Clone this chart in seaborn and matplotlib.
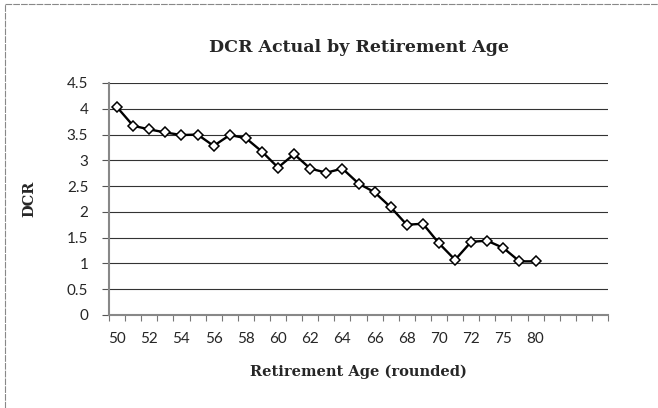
import matplotlib
matplotlib.use("Agg")
import matplotlib.pyplot as plt
import seaborn as sns
import numpy as np
import pandas as pd
from matplotlib.lines import Line2D

# categories on the x axis (Excel-style category axis, 4 empty slots at the end)
ages = ['50', '51', '52', '53', '54', '55', '56', '57', '58', '59', '60', '61',
        '62', '63', '64', '65', '66', '67', '68', '69', '70', '71', '72', '73',
        '75', '77', '80', '', '', '', '']
dcr = [4.03, 3.67, 3.60, 3.54, 3.49, 3.50, 3.28, 3.49, 3.43, 3.17, 2.86, 3.12,
       2.84, 2.76, 2.84, 2.55, 2.38, 2.09, 1.75, 1.77, 1.39, 1.07, 1.42, 1.44,
       1.30, 1.04, 1.04]
yticks = [0, 0.5, 1, 1.5, 2, 2.5, 3, 3.5, 4, 4.5]

df = pd.DataFrame({'pos': np.arange(len(dcr)), 'DCR': dcr})

sns.set_style('white')
plt.rcParams['font.family'] = ['Lato', 'DejaVu Sans']

fig = plt.figure(figsize=(6.58, 4.08), dpi=100)
ax = fig.add_axes([0.1657, 0.228, 0.7583, 0.5686])

sns.lineplot(data=df, x='pos', y='DCR', ax=ax, color='black', linewidth=1.7,
             marker='D', markersize=5.5, markerfacecolor='white',
             markeredgecolor='black', markeredgewidth=1.1, zorder=3)

ax.set_xlim(-0.5, len(ages) - 0.5)
ax.set_ylim(0, 4.5)

# labels at every other category, tick marks at category boundaries
ax.set_xticks(np.arange(0, len(ages), 2))
ax.set_xticklabels([ages[i] for i in range(0, len(ages), 2)])
ax.set_xticks(np.arange(-0.5, len(ages), 1), minor=True)
ax.tick_params(axis='x', which='major', length=0, pad=12, labelsize=11)
ax.tick_params(axis='x', which='minor', length=4, width=0.8, color='#777777',
               direction='out', bottom=True)

ax.set_yticks(yticks)
ax.set_yticklabels([('%g' % v) for v in yticks])
ax.tick_params(axis='y', length=5, width=0.8, color='#555555', direction='out',
               left=True, pad=10, labelsize=11)

ax.grid(axis='y', color='#333333', linewidth=0.8)
ax.grid(axis='x', visible=False)
ax.set_axisbelow(True)

for s in ['top', 'right']:
    ax.spines[s].set_visible(False)
ax.spines['left'].set_color('#888888')
ax.spines['left'].set_linewidth(1.5)
ax.spines['bottom'].set_color('#888888')
ax.spines['bottom'].set_linewidth(1.5)

ax.set_xlabel('Retirement Age (rounded)', family=['DejaVu Serif'],
              fontweight='bold', fontsize=10.5, labelpad=14)
ax.set_ylabel('DCR', family=['DejaVu Serif'], fontweight='bold',
              fontsize=10.5, labelpad=22)
ax.set_title('DCR Actual by Retirement Age', family=['DejaVu Serif'],
             fontweight='bold', fontsize=12.5, pad=22)

# scanned chart frame: only the top and left edges show
fig.lines.append(Line2D([0.008, 1.0], [0.99, 0.99], transform=fig.transFigure,
                        color='#888888', linewidth=0.8, linestyle=(0, (6, 1))))
fig.lines.append(Line2D([0.008, 0.008], [0.0, 0.99], transform=fig.transFigure,
                        color='#888888', linewidth=0.8, linestyle=(0, (6, 1))))

fig.savefig('out.png', dpi=100)
